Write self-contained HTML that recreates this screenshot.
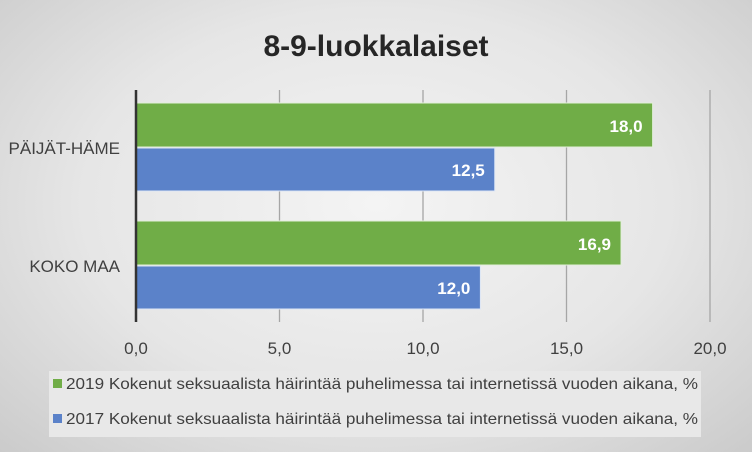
<!DOCTYPE html>
<html><head><meta charset="utf-8"><style>
html,body{margin:0;padding:0}
body{width:752px;height:452px;overflow:hidden;font-family:"Liberation Sans",sans-serif}
#chart{position:absolute;left:0;top:0;width:752px;height:452px;background:radial-gradient(ellipse at 50% 45%,#f4f4f4 0%,#e6e6e6 55%,#cbcbcb 100%)}
</style></head><body>
<div id="chart">
<svg width="752" height="452" id="svg"></svg>
</div>
<script>
const categories=["PÄIJÄT-HÄME","KOKO MAA"];
const values2019=[18.0,16.9];
const values2017=[12.5,12.0];
const ticks=[0,5,10,15,20];
const tickLabels=["0,0","5,0","10,0","15,0","20,0"];
const NS="http://www.w3.org/2000/svg";
const svg=document.getElementById('svg');
function mk(t,a,txt){const e=document.createElementNS(NS,t);for(const k in a)e.setAttribute(k,a[k]);if(txt!==undefined)e.textContent=txt;svg.appendChild(e);return e;}
const x=v=>136+v*(710-136)/20;
const catTop=[103,221];
const t=mk('text',{x:376,y:56,'text-anchor':'middle','font-size':30,'font-weight':'bold',fill:'#262626'},'8-9-luokkalaiset');


ticks.forEach((v,i)=>{
 if(i>0){const g=mk('line',{x1:x(v),x2:x(v),y1:90,y2:322,stroke:'#a6a6a6','stroke-width':1.3});
 
 }
 const l=mk('text',{x:x(v),y:354,'text-anchor':'middle','font-size':17,fill:'#404040'},tickLabels[i]);
 
 
});
const lb=mk('rect',{x:49,y:371,width:652,height:66,fill:'#e8e8e8'});


categories.forEach((c,i)=>{
 const y0=catTop[i];
 const g=mk('rect',{x:x(0),y:y0,width:x(values2019[i])-x(0),height:44,fill:'#70ad47',stroke:'#e2efda','stroke-width':1});
 
 
 const b=mk('rect',{x:x(0),y:y0+45,width:x(values2017[i])-x(0),height:43,fill:'#5b82c9',stroke:'#dde6f5','stroke-width':1});
 
 
 const l1=mk('text',{x:x(values2019[i])-10,y:y0+29,'text-anchor':'end','font-size':17,'font-weight':'bold',fill:'#fff'},values2019[i].toFixed(1).replace('.',','));
 
 
 const l2=mk('text',{x:x(values2017[i])-10,y:y0+73,'text-anchor':'end','font-size':17,'font-weight':'bold',fill:'#fff'},values2017[i].toFixed(1).replace('.',','));
 
 
 const cl=mk('text',{x:120,y:y0+51,'text-anchor':'end','font-size':17,fill:'#404040'},c);
 
 
});
const ax=mk('line',{x1:136,x2:136,y1:90,y2:322,stroke:'#333','stroke-width':2.5});


[['#70ad47','2019 Kokenut seksuaalista häirintää puhelimessa tai internetissä vuoden aikana, %',389],['#5b82c9','2017 Kokenut seksuaalista häirintää puhelimessa tai internetissä vuoden aikana, %',424]].forEach(([c,s,y])=>{
 const sw=mk('rect',{x:53,y:y-10,width:9,height:9,fill:c});
 
 
 const tx=mk('text',{x:66,y:y,'font-size':16,fill:'#404040',textLength:632,lengthAdjust:'spacingAndGlyphs'},s);
 
 
});
</script>
</body></html>
